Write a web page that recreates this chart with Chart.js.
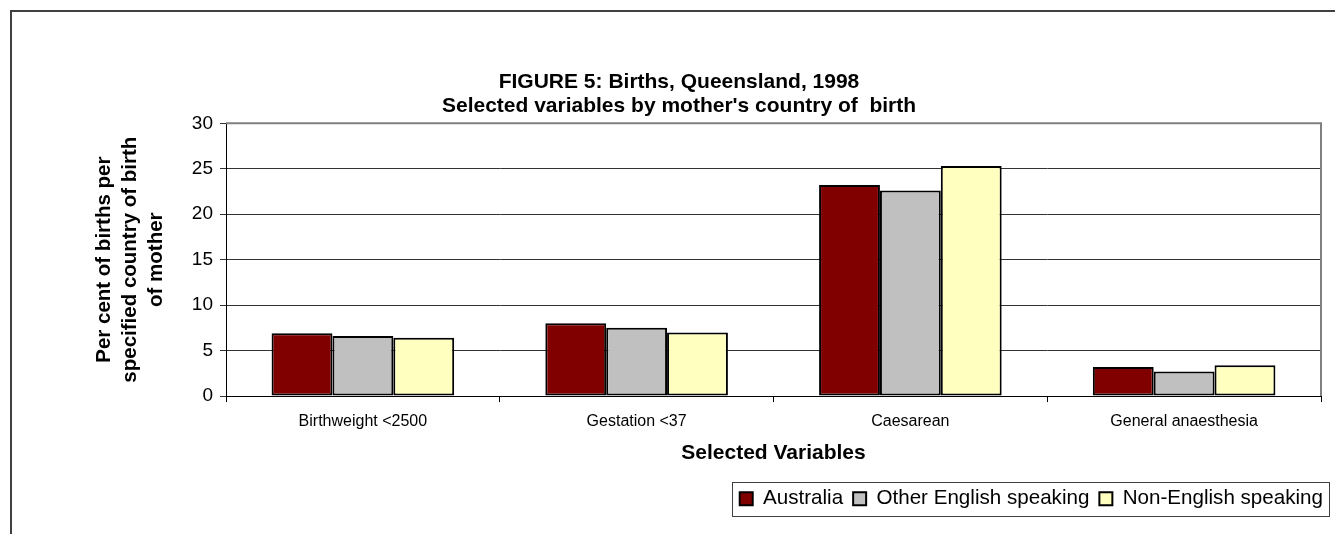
<!DOCTYPE html>
<html>
<head>
<meta charset="utf-8">
<script src="https://cdn.jsdelivr.net/npm/chart.js@4/dist/chart.umd.min.js"></script>
<style>
  body { margin: 0; background: #fff; overflow: hidden; }
  #frame {
    position: absolute; left: 10px; top: 10px;
    width: 1340px; height: 540px;
    border-left: 2px solid #404040; border-top: 2px solid #404040;
  }
  canvas { display: block; }
</style>
</head>
<body>
<div id="frame"><canvas id="births" width="1334" height="522"></canvas></div>
<script>
// chart data
var categories = ["Birthweight <2500", "Gestation <37", "Caesarean", "General anaesthesia"];
var australia = [6.9, 8.0, 23.2, 3.2];
var otherEnglish = [6.6, 7.5, 22.6, 2.7];
var nonEnglish = [6.4, 7.0, 25.3, 3.4];
var seriesNames = ["Australia", "Other English speaking", "Non-English speaking"];
var yTicks = [0, 5, 10, 15, 20, 25, 30];

var FONT = "'Liberation Sans', Arial, sans-serif";

// grey frame on the top and right of the plot area
var plotFrame = {
    id: "plotFrame",
    beforeDatasetsDraw: function (chart) {
        var a = chart.chartArea, ctx = chart.ctx;
        ctx.save();
        ctx.strokeStyle = "#808080";
        ctx.lineWidth = 2;
        ctx.beginPath();
        ctx.moveTo(a.left, a.top);
        ctx.lineTo(a.right, a.top);
        ctx.lineTo(a.right, a.bottom);
        ctx.stroke();
        ctx.restore();
    }
};

// push the legend a bit right and draw a box round it
var legendShift = 12;
var legendBox = {
    id: "legendBox",
    afterUpdate: function (chart) {
        var lg = chart.legend;
        lg.left += legendShift;
        lg.right += legendShift;
        lg.legendHitBoxes.forEach(function (h) { h.left += legendShift; });
    },
    afterDraw: function (chart) {
        var boxes = chart.legend.legendHitBoxes;
        if (!boxes.length) return;
        var first = boxes[0], last = boxes[boxes.length - 1];
        var cy = first.top + first.height / 2;
        var ctx = chart.ctx;
        ctx.save();
        ctx.strokeStyle = "#404040";
        ctx.lineWidth = 1;
        ctx.strokeRect(Math.round(first.left - 8) + 0.5, Math.round(cy - 17) + 0.5,
            Math.round(last.left + last.width - first.left + 14), 34);
        ctx.restore();
    }
};

function barSet(label, values, colour) {
    return {
        label: label,
        data: values,
        backgroundColor: colour,
        borderColor: "#000000",
        borderWidth: 2,
        borderSkipped: false,
        categoryPercentage: 0.667,
        barPercentage: 1.0
    };
}

new Chart(document.getElementById("births"), {
    type: "bar",
    data: {
        labels: categories,
        datasets: [
            barSet(seriesNames[0], australia, "#800000"),
            barSet(seriesNames[1], otherEnglish, "#C0C0C0"),
            barSet(seriesNames[2], nonEnglish, "#FFFFC0")
        ]
    },
    options: {
        responsive: false,
        animation: false,
        devicePixelRatio: 1,
        layout: { padding: { top: 58, left: 25, right: 25, bottom: 15 } },
        plugins: {
            title: {
                display: true,
                text: ["FIGURE 5: Births, Queensland, 1998", "Selected variables by mother's country of  birth"],
                color: "#000",
                font: { family: FONT, size: 21, weight: "bold", lineHeight: 1.15 },
                padding: { top: 0, bottom: 5 }
            },
            legend: {
                display: true,
                position: "bottom",
                align: "end",
                labels: {
                    color: "#000",
                    font: { family: FONT, size: 20.6 },
                    boxWidth: 13,
                    boxHeight: 13,
                    padding: 10
                }
            },
            tooltip: { enabled: false }
        },
        scales: {
            x: {
                grid: {
                    display: true,
                    drawOnChartArea: false,
                    drawTicks: true,
                    tickLength: 6,
                    color: "#000"
                },
                border: { color: "#000", width: 1 },
                ticks: {
                    color: "#000",
                    font: { family: FONT, size: 16 },
                    padding: 10,
                    maxRotation: 0
                },
                title: {
                    display: true,
                    text: "Selected Variables",
                    color: "#000",
                    font: { family: FONT, size: 21, weight: "bold", lineHeight: 1.15 },
                    padding: { top: 0, bottom: 13 }
                }
            },
            y: {
                min: 0,
                max: 30,
                afterBuildTicks: function (scale) {
                    scale.ticks = yTicks.map(function (v) { return { value: v }; });
                },
                afterFit: function (scale) { scale.width = 189; },
                grid: {
                    color: "#333",
                    lineWidth: 1,
                    drawTicks: true,
                    tickLength: 6
                },
                border: { color: "#000", width: 1 },
                ticks: {
                    color: "#000",
                    font: { family: FONT, size: 19 },
                    padding: 7
                },
                title: {
                    display: true,
                    text: ["Per cent of births per", "specified country of birth", "of mother"],
                    color: "#000",
                    font: { family: FONT, size: 20.5, weight: "bold", lineHeight: 1.25 },
                    padding: { top: 55, bottom: 0 }
                }
            }
        }
    },
    plugins: [plotFrame, legendBox]
});
</script>
</body>
</html>
